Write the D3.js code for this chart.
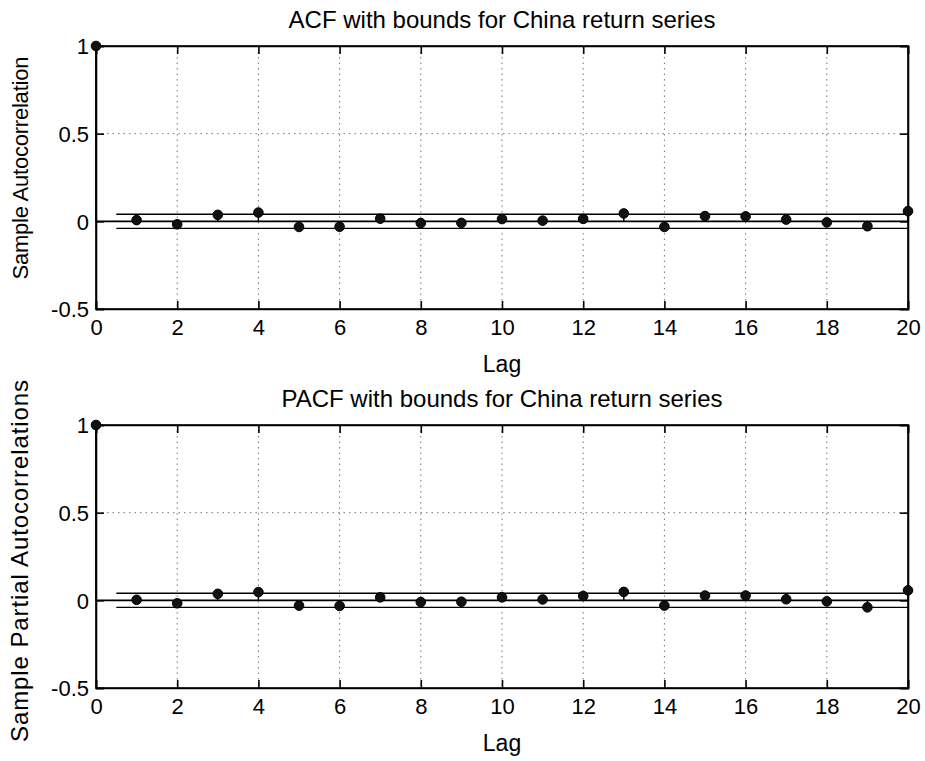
<!DOCTYPE html>
<html>
<head>
<meta charset="utf-8">
<script src="https://cdn.jsdelivr.net/npm/d3@7"></script>
<style>
  html, body { margin: 0; padding: 0; background: #fff; }
  svg { display: block; }
  text { font-family: "Liberation Sans", Arial, sans-serif; fill: #000; }
</style>
</head>
<body>
<svg id="chart" width="925" height="761"></svg>
<script>
// Lags shown on both panels
const lags = d3.range(0, 21);

// Sample autocorrelations of the China return series, lags 0..20
const acfValues = [1, 0.007, -0.017, 0.037, 0.05, -0.032, -0.031, 0.015, -0.01, -0.009,
  0.013, 0.004, 0.014, 0.045, -0.032, 0.03, 0.028, 0.01, -0.006, -0.028, 0.058];

// Sample partial autocorrelations, lags 0..20
const pacfValues = [1, 0.003, -0.017, 0.037, 0.047, -0.03, -0.032, 0.017, -0.01, -0.008,
  0.017, 0.005, 0.025, 0.048, -0.03, 0.027, 0.027, 0.006, -0.006, -0.04, 0.057];

// Approximate 95% confidence bounds
const acfBound = 0.04;
const pacfBound = 0.04;

// Tick values and their labels
const xTicks = [0, 2, 4, 6, 8, 10, 12, 14, 16, 18, 20];
const yTicks = [-0.5, 0, 0.5, 1];
const yTickLabels = ["-0.5", "0", "0.5", "1"];

const titles = ["ACF with bounds for China return series", "PACF with bounds for China return series"];
const yLabels = ["Sample Autocorrelation", "Sample Partial Autocorrelations"];
const xLabel = "Lag";

const svg = d3.select("#chart");

function drawPanel(opts) {
  const { top, bottom, left, right, values, bound, title, yLabel, yLabelSize, yLabelY, yLabelLength } = opts;
  const x = d3.scaleLinear().domain([0, 20]).range([left, right]);
  const y = d3.scaleLinear().domain([-0.5, 1]).range([bottom, top]);
  const g = svg.append("g");

  // dotted grid
  g.selectAll(".vgrid").data(xTicks.filter(t => t > 0 && t < 20)).enter()
    .append("line")
    .attr("x1", d => x(d)).attr("x2", d => x(d))
    .attr("y1", top).attr("y2", bottom)
    .attr("stroke", "#777").attr("stroke-width", 1).attr("stroke-dasharray", "1.5,4");
  g.selectAll(".hgrid").data(yTicks.filter(t => t > -0.5 && t < 1)).enter()
    .append("line")
    .attr("x1", left).attr("x2", right)
    .attr("y1", d => y(d)).attr("y2", d => y(d))
    .attr("stroke", "#777").attr("stroke-width", 1).attr("stroke-dasharray", "1.5,4");

  // axes with inward ticks on all four sides
  const tickLen = 8;
  const bottomAxis = d3.axisBottom(x).tickValues(xTicks).tickSize(-tickLen).tickPadding(10).tickFormat(d3.format("d"));
  const topAxis = d3.axisTop(x).tickValues(xTicks).tickSize(-tickLen).tickFormat("");
  const leftAxis = d3.axisLeft(y).tickValues(yTicks).tickSize(-tickLen).tickPadding(7)
    .tickFormat(d => yTickLabels[yTicks.indexOf(d)]);
  const rightAxis = d3.axisRight(y).tickValues(yTicks).tickSize(-tickLen).tickFormat("");

  const ax = [
    g.append("g").attr("transform", `translate(0,${bottom})`).call(bottomAxis),
    g.append("g").attr("transform", `translate(0,${top})`).call(topAxis),
    g.append("g").attr("transform", `translate(${left},0)`).call(leftAxis),
    g.append("g").attr("transform", `translate(${right},0)`).call(rightAxis)
  ];
  ax.forEach(a => {
    a.select(".domain").attr("stroke", "#000").attr("stroke-width", 1.6);
    a.selectAll(".tick line").attr("stroke", "#000").attr("stroke-width", 1.6);
    a.selectAll(".tick text").attr("font-size", 22).attr("font-family", "Liberation Sans, Arial, sans-serif").attr("fill", "#000");
  });
  ax[2].selectAll(".tick text").attr("dy", "0.35em");
  ax[0].selectAll(".tick text").attr("dy", "0.71em");

  // box edges drawn solid over the axis paths
  g.append("rect")
    .attr("x", left).attr("y", top)
    .attr("width", right - left).attr("height", bottom - top)
    .attr("fill", "none").attr("stroke", "#000").attr("stroke-width", 1.6);

  // stem baseline
  g.append("line")
    .attr("x1", x(0)).attr("x2", x(20))
    .attr("y1", y(0)).attr("y2", y(0))
    .attr("stroke", "#000").attr("stroke-width", 1.6);

  // confidence bounds
  [bound, -bound].forEach(b => {
    g.append("line")
      .attr("x1", x(0.5)).attr("x2", x(20))
      .attr("y1", y(b)).attr("y2", y(b))
      .attr("stroke", "#000").attr("stroke-width", 1.4);
  });

  const pts = lags.map((l, i) => ({ lag: l, v: values[i] }));

  // stems
  g.selectAll(".stem").data(pts).enter()
    .append("line")
    .attr("x1", d => x(d.lag)).attr("x2", d => x(d.lag))
    .attr("y1", y(0)).attr("y2", d => y(d.v))
    .attr("stroke", "#000").attr("stroke-width", 1.4);

  // markers
  g.selectAll(".dot").data(pts).enter()
    .append("circle")
    .attr("cx", d => x(d.lag)).attr("cy", d => y(d.v))
    .attr("r", 4.8)
    .attr("fill", "#111").attr("stroke", "#000").attr("stroke-width", 1);

  // title
  g.append("text")
    .attr("x", (left + right) / 2).attr("y", top - 18)
    .attr("text-anchor", "middle").attr("font-size", 24)
    .text(title);

  // x label
  g.append("text")
    .attr("x", (left + right) / 2).attr("y", bottom + 63)
    .attr("text-anchor", "middle").attr("font-size", 23)
    .text(xLabel);

  // y label
  const yl = g.append("text")
    .attr("transform", `translate(28,${yLabelY}) rotate(-90)`)
    .attr("text-anchor", "middle").attr("font-size", yLabelSize)
    .text(yLabel);
  if (yLabelLength) yl.attr("textLength", yLabelLength).attr("lengthAdjust", "spacing");
}

drawPanel({ top: 46, bottom: 309, left: 96, right: 908, values: acfValues, bound: acfBound,
  title: titles[0], yLabel: yLabels[0], yLabelSize: 22, yLabelY: 168, yLabelLength: 223 });
drawPanel({ top: 425, bottom: 688, left: 96, right: 908, values: pacfValues, bound: pacfBound,
  title: titles[1], yLabel: yLabels[1], yLabelSize: 24, yLabelY: 561, yLabelLength: 362 });
</script>
</body>
</html>
